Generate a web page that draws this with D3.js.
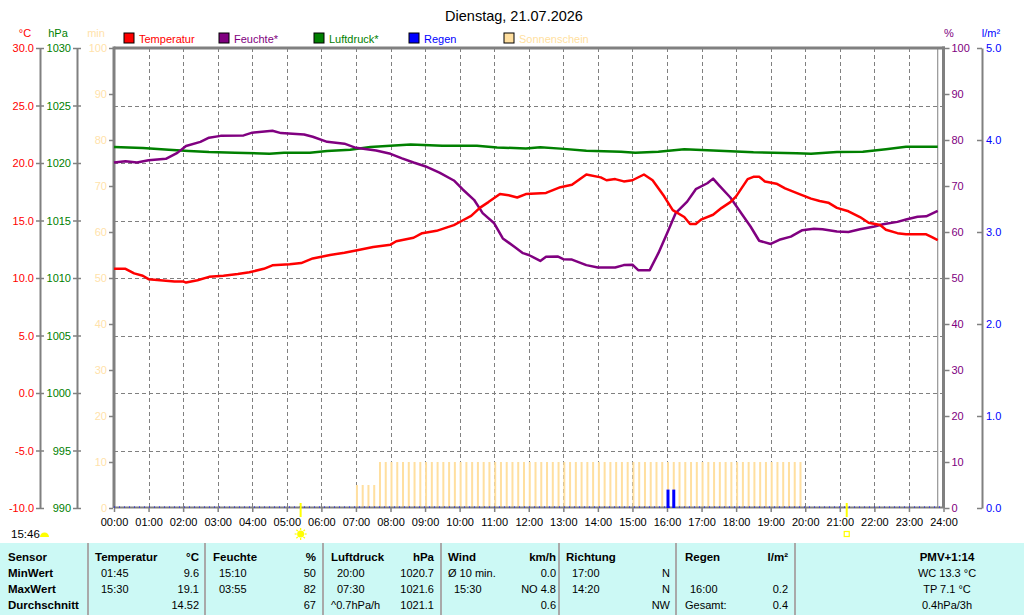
<!DOCTYPE html>
<html>
<head>
<meta charset="utf-8">
<title>Dienstag, 21.07.2026</title>
<script src="https://cdn.jsdelivr.net/npm/d3@7"></script>
<style>
  body { margin: 0; background: #fff; }
  svg text { font-family: "Liberation Sans", Arial, sans-serif; font-size: 11px; }
</style>
</head>
<body>
<div class="graph"></div>
<script>
const tempTimes = ["00:00","00:20","00:35","00:50","01:00","01:20","01:45","02:00","02:05","02:25","02:45","03:10","03:35","03:55","04:20","04:35","05:05","05:25","05:45","06:15","06:40","07:00","07:30","08:00","08:10","08:40","08:55","09:20","09:50","10:05","10:20","10:35","10:50","11:10","11:25","11:40","11:55","12:30","12:55","13:15","13:40","14:05","14:15","14:30","14:45","15:00","15:20","15:35","15:55","16:10","16:30","16:40","16:50","17:00","17:20","17:35","17:50","18:00","18:20","18:30","18:40","18:50","19:10","19:25","19:50","20:10","20:25","20:40","20:55","21:15","21:35","21:50","22:10","22:20","22:40","22:55","23:30","23:40","23:50"]
const tempValues = [10.8,10.8,10.4,10.2,9.9,9.8,9.7,9.7,9.6,9.8,10.1,10.2,10.35,10.5,10.8,11.1,11.2,11.3,11.7,12.0,12.2,12.4,12.7,12.9,13.2,13.5,13.9,14.1,14.6,15.0,15.4,16.1,16.6,17.3,17.2,17.0,17.3,17.4,17.9,18.1,19.0,18.75,18.5,18.6,18.4,18.5,19.0,18.5,17.1,15.9,15.3,14.7,14.7,15.1,15.5,16.1,16.6,17.1,18.6,18.8,18.8,18.4,18.2,17.8,17.3,16.9,16.7,16.55,16.1,15.8,15.3,14.8,14.6,14.2,13.9,13.8,13.8,13.55,13.3]

const humTimes = ["00:00","00:20","00:40","01:00","01:30","01:50","02:05","02:30","02:45","03:05","03:45","04:00","04:35","04:50","05:30","05:45","06:10","06:40","07:00","07:35","08:00","08:20","08:40","09:00","09:25","09:50","10:05","10:25","10:40","11:00","11:15","11:35","11:50","12:00","12:20","12:30","12:50","13:00","13:15","13:40","14:00","14:30","14:45","15:00","15:10","15:30","15:45","16:00","16:15","16:35","16:50","17:10","17:20","17:30","17:50","18:05","18:25","18:40","19:00","19:15","19:35","19:55","20:15","20:30","20:55","21:15","21:35","22:00","22:15","22:40","22:55","23:15","23:30","23:50"]
const humValues = [75.1,75.4,75.1,75.6,75.9,77.2,78.7,79.6,80.5,80.9,81.0,81.6,82.0,81.5,81.2,80.7,79.6,79.2,78.3,77.7,77.0,76.0,75.1,74.3,72.9,71.2,69.3,67.0,64.1,61.9,58.6,56.8,55.4,55.0,53.7,54.6,54.7,54.1,54.0,52.8,52.3,52.3,52.8,52.9,51.7,51.7,55.4,59.7,64.1,66.6,69.3,70.6,71.6,70.2,67.5,64.8,61.2,58.1,57.4,58.3,59.0,60.4,60.7,60.6,60.1,60.0,60.6,61.2,61.7,62.2,62.7,63.3,63.4,64.6]

const pressTimes = ["00:00","00:50","01:35","02:10","02:45","03:30","04:30","04:55","05:40","06:10","06:50","07:25","08:35","09:30","10:30","11:05","11:55","12:20","12:55","13:40","14:40","15:05","15:45","16:30","17:30","18:30","19:45","20:10","20:55","21:40","22:20","22:55","23:50"]
const pressValues = [1021.4,1021.3,1021.15,1021.05,1020.95,1020.9,1020.8,1020.9,1020.9,1021.05,1021.15,1021.4,1021.6,1021.5,1021.5,1021.35,1021.27,1021.37,1021.25,1021.07,1020.98,1020.9,1020.98,1021.2,1021.07,1020.93,1020.84,1020.8,1020.96,1020.98,1021.2,1021.42,1021.42]

const rainTimes = ["16:00","16:10"]
const rainValues = [0.2, 0.2]

// Sonnenschein in min je 10-Minuten-Slot, eine Zeile pro Stunde
const sunSlots = [
  [0,0,0,0,0,0],[0,0,0,0,0,0],[0,0,0,0,0,0],[0,0,0,0,0,0],
  [0,0,0,0,0,0],[0,0,0,0,0,0],[0,0,0,0,0,0],[5,5,5,5,10,10],
  [10,10,10,10,10,10],[10,10,10,10,10,10],[10,10,10,10,10,10],[10,10,10,10,10,10],
  [10,10,10,10,10,10],[10,10,10,10,10,10],[10,10,10,10,10,10],[10,10,10,10,10,10],
  [10,10,10,10,10,10],[10,10,10,10,10,10],[10,10,10,10,10,10],[10,10,10,10,10,10],
  [0,0,0,0,0,0],[0,0,0,0,0,0],[0,0,0,0,0,0],[0,0,0,0,0,0]
]
const sunrise = "05:24"
const sunset = "21:12"
const lastValue = "23:50"

// Achsenbeschriftung
const hourLabels = ["00:00","01:00","02:00","03:00","04:00","05:00","06:00","07:00","08:00","09:00","10:00","11:00","12:00","13:00","14:00","15:00","16:00","17:00","18:00","19:00","20:00","21:00","22:00","23:00","24:00"]
const tempTicks = [30,25,20,15,10,5,0,-5,-10]
const pressTicks = [1030,1025,1020,1015,1010,1005,1000,995,990]
const sunTicks = [100,90,80,70,60,50,40,30,20,10,0]
const humTicks = [100,90,80,70,60,50,40,30,20,10,0]
const rainTicks = [5,4,3,2,1,0]

const legendNames = ["Temperatur","Feuchte*","Luftdruck*","Regen","Sonnenschein"]

// Tabelle unten
const tblSensor = ["Sensor","MinWert","MaxWert","Durchschnitt"]
const tblTemp = [["Temperatur","°C"],["01:45","9.6"],["15:30","19.1"],["","14.52"]]
const tblHum = [["Feuchte","%"],["15:10","50"],["03:55","82"],["","67"]]
const tblPress = [["Luftdruck","hPa"],["20:00","1020.7"],["07:30","1021.6"],["^0.7hPa/h","1021.1"]]
const tblWind = [["Wind","km/h"],["Ø 10 min.","0.0"],["15:30","NO 4.8"],["","0.6"]]
const tblDir = [["Richtung",""],["17:00","N"],["14:20","N"],["","NW"]]
const tblRain = [["Regen","l/m²"],["",""],["16:00","0.2"],["Gesamt:","0.4"]]
const tblExtra = ["PMV+1:14","WC 13.3 °C","TP 7.1 °C","0.4hPa/3h"]

const BaseData = {
  width: 1024,
  height: 615,
  left: 114,
  right: 943.5,
  top: 48,
  bottom: 508,
  svg: null,
}
const COL = {
  temp: "#ff0000", hum: "#800080", press: "#008000", rain: "#0000ff",
  sun: "#ffdf9f", sunText: "#ffe2aa", axis: "#808080", grid: "#808080",
}

const toMin = s => { const p = s.split(":"); return +p[0] * 60 + +p[1] }
const zip = (t, v) => t.map((d, i) => ({ t: toMin(d), v: v[i] }))
const fmt1 = d => d.toFixed(1) // Bindestrich statt Unicode-Minus

const svg = d3.select(".graph").append("svg")
  .attr("width", BaseData.width).attr("height", BaseData.height)
BaseData.svg = svg

// scales
const xs = d3.scaleLinear().domain([0, 1440]).range([BaseData.left, BaseData.right])
const yT = d3.scaleLinear().domain([-10, 30]).range([BaseData.bottom, BaseData.top])
const yP = d3.scaleLinear().domain([990, 1030]).range([BaseData.bottom, BaseData.top])
const yS = d3.scaleLinear().domain([0, 100]).range([BaseData.bottom, BaseData.top])
const yH = d3.scaleLinear().domain([0, 100]).range([BaseData.bottom, BaseData.top])
const yR = d3.scaleLinear().domain([0, 5]).range([BaseData.bottom, BaseData.top])

// Titel
svg.append("text").attr("x", 514).attr("y", 21).attr("text-anchor", "middle")
  .style("font-size", "14.5px").text("Dienstag, 21.07.2026")

// Einheiten
const unit = (x, txt, c, anchor) => svg.append("text").attr("x", x).attr("y", 37)
  .attr("text-anchor", anchor || "middle").attr("fill", c).text(txt)
unit(25, "°C", COL.temp)
unit(58, "hPa", COL.press)
unit(96, "min", COL.sunText)
unit(949, "%", COL.hum)
unit(991, "l/m²", COL.rain)

// Legende
const legColors = [COL.temp, COL.hum, COL.press, COL.rain, COL.sun]
const leg = svg.append("g").selectAll("g").data(legendNames).enter().append("g")
  .attr("transform", (d, i) => `translate(${124 + i * 95},33)`)
leg.append("rect").attr("width", 10).attr("height", 10)
  .attr("fill", (d, i) => legColors[i]).attr("stroke", "#000").attr("stroke-width", 1)
leg.append("text").attr("x", 15).attr("y", 9.5).attr("fill", (d, i) => legColors[i]).text(d => d)

// Gitter
const grid = svg.append("g").attr("stroke", COL.grid).attr("stroke-dasharray", "4,3").attr("stroke-width", 1)
grid.selectAll("line.h").data(tempTicks.slice(1, -1)).enter().append("line")
  .attr("x1", BaseData.left).attr("x2", BaseData.right)
  .attr("y1", d => Math.round(yT(d)) + 0.5).attr("y2", d => Math.round(yT(d)) + 0.5)
grid.selectAll("line.v").data(hourLabels.slice(1, -1)).enter().append("line")
  .attr("y1", BaseData.top).attr("y2", BaseData.bottom)
  .attr("x1", d => Math.round(xs(toMin(d))) + 0.5).attr("x2", d => Math.round(xs(toMin(d))) + 0.5)

// Sonnenschein-Balken
const sunData = []
sunSlots.forEach((row, h) => row.forEach((v, k) => { if (v > 0) sunData.push({ t: h * 60 + k * 10, v }) }))
svg.append("g").selectAll("rect").data(sunData).enter().append("rect")
  .attr("x", d => xs(d.t)).attr("width", 2)
  .attr("y", d => yS(d.v)).attr("height", d => BaseData.bottom - yS(d.v))
  .attr("fill", COL.sun)

// letzter Wert
svg.append("line").attr("x1", xs(toMin(lastValue))).attr("x2", xs(toMin(lastValue)))
  .attr("y1", BaseData.top).attr("y2", BaseData.bottom).attr("stroke", COL.axis).attr("stroke-width", 1)

// Rahmen
const frame = svg.append("g").attr("stroke", COL.axis)
frame.append("line").attr("x1", BaseData.left).attr("x2", BaseData.right + 1.5)
  .attr("y1", BaseData.top).attr("y2", BaseData.top).attr("stroke-width", 3)
frame.append("line").attr("x1", BaseData.left).attr("x2", BaseData.left)
  .attr("y1", BaseData.top - 1.5).attr("y2", BaseData.bottom).attr("stroke-width", 3)
frame.append("line").attr("x1", BaseData.right).attr("x2", BaseData.right)
  .attr("y1", BaseData.top - 1.5).attr("y2", BaseData.bottom).attr("stroke-width", 3)
frame.append("line").attr("x1", BaseData.left).attr("x2", BaseData.right)
  .attr("y1", BaseData.bottom - 0.5).attr("y2", BaseData.bottom - 0.5).attr("stroke-width", 2)
svg.append("line").attr("x1", BaseData.left).attr("x2", BaseData.right)
  .attr("y1", BaseData.bottom - 1).attr("y2", BaseData.bottom - 1)
  .attr("stroke", COL.rain).attr("stroke-width", 1).attr("stroke-dasharray", "1,4")

// Regen-Balken
svg.append("g").selectAll("rect").data(zip(rainTimes, rainValues)).enter().append("rect")
  .attr("x", d => xs(d.t) - 0.5).attr("width", 3)
  .attr("y", d => yR(d.v)).attr("height", d => BaseData.bottom - yR(d.v))
  .attr("fill", COL.rain)

// Linien
const drawLine = (data, y, c) => svg.append("path").datum(data)
  .attr("fill", "none").attr("stroke", c).attr("stroke-width", 2.5).attr("stroke-linejoin", "round")
  .attr("d", d3.line().x(d => xs(d.t)).y(d => y(d.v)))
drawLine(zip(pressTimes, pressValues), yP, COL.press)
drawLine(zip(humTimes, humValues), yH, COL.hum)
drawLine(zip(tempTimes, tempValues), yT, COL.temp)

// Achsen
function styleAxis(g, c, domain) {
  g.selectAll(".tick line").attr("stroke", COL.axis).attr("stroke-width", 1.5)
  g.selectAll(".tick text").attr("fill", c).style("font-size", "11px").style("font-family", "Liberation Sans, Arial, sans-serif")
  if (domain) g.select(".domain").attr("stroke", COL.axis).attr("stroke-width", 2)
  else g.select(".domain").remove()
}
const gT = svg.append("g").attr("transform", "translate(40,0)")
  .call(d3.axisLeft(yT).tickValues(tempTicks).tickSizeInner(4).tickSizeOuter(0).tickPadding(2).tickFormat(fmt1))
gT.selectAll(".tick line").attr("x1", 4)
styleAxis(gT, COL.temp, true)

const gP = svg.append("g").attr("transform", "translate(77,0)")
  .call(d3.axisLeft(yP).tickValues(pressTicks).tickSizeInner(4).tickSizeOuter(0).tickPadding(2).tickFormat(d => String(d)))
gP.selectAll(".tick line").attr("x1", 4)
styleAxis(gP, COL.press, true)

const gS = svg.append("g").attr("transform", `translate(${BaseData.left - 1},0)`)
  .call(d3.axisLeft(yS).tickValues(sunTicks).tickSizeInner(4).tickSizeOuter(0).tickPadding(2))
styleAxis(gS, COL.sunText, false)

const gH = svg.append("g").attr("transform", `translate(${BaseData.right + 1},0)`)
  .call(d3.axisRight(yH).tickValues(humTicks).tickSizeInner(5).tickSizeOuter(0).tickPadding(2))
styleAxis(gH, COL.hum, false)

const gR = svg.append("g").attr("transform", "translate(982,0)")
  .call(d3.axisRight(yR).tickValues(rainTicks).tickSizeInner(-5).tickSizeOuter(0).tickPadding(4).tickFormat(fmt1))
styleAxis(gR, COL.rain, true)

const gX = svg.append("g").attr("transform", `translate(0,${BaseData.bottom})`)
  .call(d3.axisBottom(xs).tickValues(hourLabels.map(toMin)).tickSizeInner(4).tickSizeOuter(0).tickPadding(6)
    .tickFormat((d, i) => hourLabels[i]))
styleAxis(gX, "#000", false)

// Sonnenauf-/untergang
const sr = xs(toMin(sunrise)), ss = xs(toMin(sunset))
svg.append("line").attr("x1", sr).attr("x2", sr).attr("y1", 503).attr("y2", 517)
  .attr("stroke", "#ffff00").attr("stroke-width", 2)
svg.append("line").attr("x1", ss).attr("x2", ss).attr("y1", 503).attr("y2", 517)
  .attr("stroke", "#ffff00").attr("stroke-width", 2)
const sun = svg.append("g").attr("transform", `translate(${sr},534)`)
sun.append("circle").attr("r", 3.5).attr("fill", "#ffff00")
sun.selectAll("line").data(d3.range(8)).enter().append("line")
  .attr("x1", d => Math.cos(d * Math.PI / 4) * 4).attr("y1", d => Math.sin(d * Math.PI / 4) * 4)
  .attr("x2", d => Math.cos(d * Math.PI / 4) * 6).attr("y2", d => Math.sin(d * Math.PI / 4) * 6)
  .attr("stroke", "#ffff00").attr("stroke-width", 1.2)
svg.append("rect").attr("x", ss - 2.5).attr("y", 531.5).attr("width", 5).attr("height", 5)
  .attr("fill", "none").attr("stroke", "#ffff00").attr("stroke-width", 1.2)

// Tageslänge
svg.append("text").attr("x", 11).attr("y", 538).style("font-size", "11.5px").text("15:46")
svg.append("path").attr("d", "M40,537 A4.5,4.5 0 0 1 49,537 Z").attr("fill", "#ffff00")

// ---- Tabelle ----
const tbl = svg.append("g")
tbl.append("rect").attr("x", 0).attr("y", 543).attr("width", 1024).attr("height", 72).attr("fill", "#ccf9f5")
const seps = [88, 205, 323, 441, 559, 676, 795]
tbl.selectAll("line").data(seps).enter().append("line")
  .attr("x1", d => d).attr("x2", d => d).attr("y1", 543).attr("y2", 615)
  .attr("stroke", "#a9a9a9").attr("stroke-width", 2)
const rowY = [561, 577, 593, 609]
const cell = (x, y, txt, anchor, bold) => tbl.append("text").attr("x", x).attr("y", y)
  .attr("text-anchor", anchor).style("font-weight", bold ? "bold" : "normal")
  .style("font-size", bold ? "11.5px" : "11px").text(txt)
tblSensor.forEach((s, i) => cell(8, rowY[i], s, "start", true))

function drawCol(rows, x0, xTime, xRight) {
  rows.forEach((r, i) => {
    const bold = i === 0
    const xl = bold ? x0 : (r[0].startsWith("^") || r[0].startsWith("Ø") || r[0].startsWith("Ges") ? x0 : xTime)
    cell(xl, rowY[i], r[0], "start", bold)
    cell(xRight, rowY[i], r[1], "end", bold)
  })
}
drawCol(tblTemp, 95, 101, 199)
drawCol(tblHum, 213, 219, 316)
drawCol(tblPress, 331, 337, 434)
drawCol(tblWind, 448, 454, 556)
drawCol(tblDir, 566, 572, 670)
drawCol(tblRain, 685, 690, 788)
tblExtra.forEach((s, i) => cell(947, rowY[i], s, "middle", i === 0))
</script>
</body>
</html>
